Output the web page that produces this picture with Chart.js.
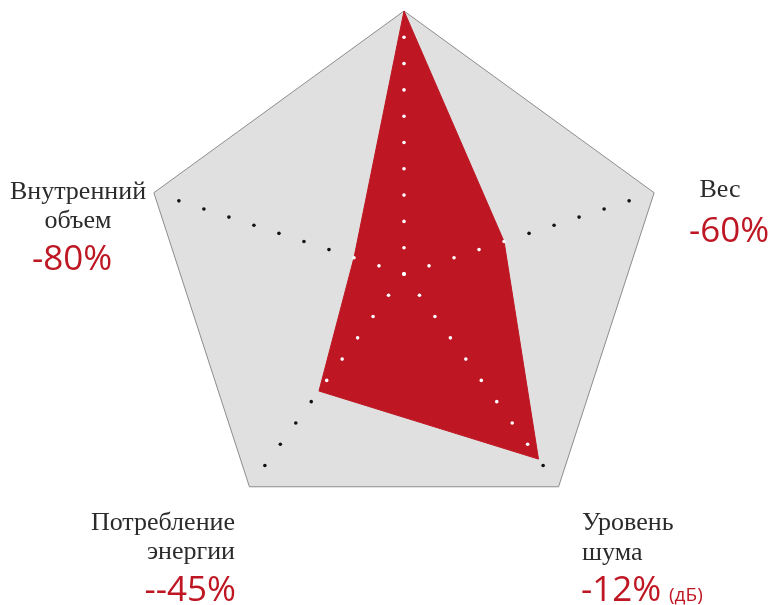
<!DOCTYPE html>
<html>
<head>
<meta charset="utf-8">
<script src="https://cdn.jsdelivr.net/npm/chart.js@4.4.1/dist/chart.umd.min.js"></script>
<style>
  html, body { margin: 0; padding: 0; background: #ffffff; }
  #wrap { position: relative; width: 774px; height: 605px; }
  canvas { display: block; }
</style>
</head>
<body>
<div id="wrap"><canvas id="c" width="774" height="605"></canvas></div>
<script>
// ---- data ----
const categories = ['', 'Вес', 'Уровень шума', 'Потребление энергии', 'Внутренний объем'];
const values = [100, 40, 87, 55, 20];
const percentLabels = ['', '-60%', '-12%', '--45%', '-80%'];
const unitLabels = ['', '', '(дБ)', '', ''];
const dotTicks = [0, 10, 20, 30, 40, 50, 60, 70, 80, 90];

// ---- styling / label layout ----
const RED = '#be1622';
const TEXT = '#2b2b2b';
const labelLayout = [
  null,
  { align: 'center', x: 720, lines: [197], px: 729, pb: 242 },
  { align: 'left', x: 582, lines: [530, 560], px: 581, pb: 601, ux: 669, ub: 601 },
  { align: 'right', x: 235, lines: [530, 559], px: 236, pb: 601 },
  { align: 'center', x: 78, lines: [199, 228], px: 72, pb: 270 }
];

const dotsPlugin = {
  id: 'dots',
  afterDatasetsDraw(chart) {
    const scale = chart.scales.r;
    const meta = chart.getDatasetMeta(0);
    const ctx = chart.ctx;
    const poly = new Path2D();
    meta.data.forEach((p, i) => { if (i === 0) poly.moveTo(p.x, p.y); else poly.lineTo(p.x, p.y); });
    poly.closePath();
    ctx.save();
    for (let i = 0; i < categories.length; i++) {
      dotTicks.forEach(v => {
        const pt = scale.getPointPositionForValue(i, v);
        const inside = ctx.isPointInPath(poly, pt.x, pt.y);
        ctx.fillStyle = inside ? '#ffffff' : '#111111';
        ctx.beginPath();
        ctx.arc(pt.x, pt.y, 1.8, 0, Math.PI * 2);
        ctx.fill();
      });
    }
    ctx.restore();
  }
};

const labelsPlugin = {
  id: 'outerLabels',
  afterDraw(chart) {
    const ctx = chart.ctx;
    ctx.save();
    ctx.textBaseline = 'alphabetic';
    categories.forEach((name, i) => {
      const L = labelLayout[i];
      if (!L || !name) return;
      ctx.textAlign = L.align;
      ctx.fillStyle = TEXT;
      ctx.font = '26px "Liberation Serif", "DejaVu Serif", serif';
      const parts = L.lines.length > 1 ? name.split(' ') : [name];
      parts.forEach((t, k) => ctx.fillText(t, L.x, L.lines[k]));
      ctx.fillStyle = RED;
      ctx.font = '35px "Open Sans", "Noto Sans", sans-serif';
      ctx.fillText(percentLabels[i], L.px, L.pb);
      if (unitLabels[i]) {
        ctx.textAlign = 'left';
        ctx.font = '19px "Open Sans", "Noto Sans", sans-serif';
        ctx.fillText(unitLabels[i], L.ux, L.ub);
      }
    });
    ctx.restore();
  }
};

function build() {
  new Chart(document.getElementById('c'), {
    type: 'radar',
    data: {
      labels: categories,
      datasets: [{
        data: values,
        backgroundColor: RED,
        borderColor: RED,
        borderWidth: 1,
        pointRadius: 0,
        pointHoverRadius: 0,
        fill: true,
        clip: false
      }]
    },
    options: {
      responsive: false,
      animation: false,
      devicePixelRatio: 1,
      layout: { padding: { left: 141, right: 107, top: 11, bottom: 68 } },
      plugins: { legend: { display: false }, tooltip: { enabled: false } },
      scales: {
        r: {
          min: 0,
          max: 100,
          backgroundColor: '#e0e0e0',
          ticks: { display: false, stepSize: 100 },
          pointLabels: { display: false },
          angleLines: { display: false },
          grid: {
            color: (c) => (c.tick && c.tick.value === 100) ? '#8c8c8c' : 'rgba(0,0,0,0)',
            lineWidth: 1
          }
        }
      }
    },
    plugins: [dotsPlugin, labelsPlugin]
  });
}

if (document.fonts && document.fonts.load) {
  Promise.all([
    document.fonts.load('26px "Liberation Serif"'),
    document.fonts.load('35px "Open Sans"')
  ]).then(build, build);
} else {
  build();
}
</script>
</body>
</html>
